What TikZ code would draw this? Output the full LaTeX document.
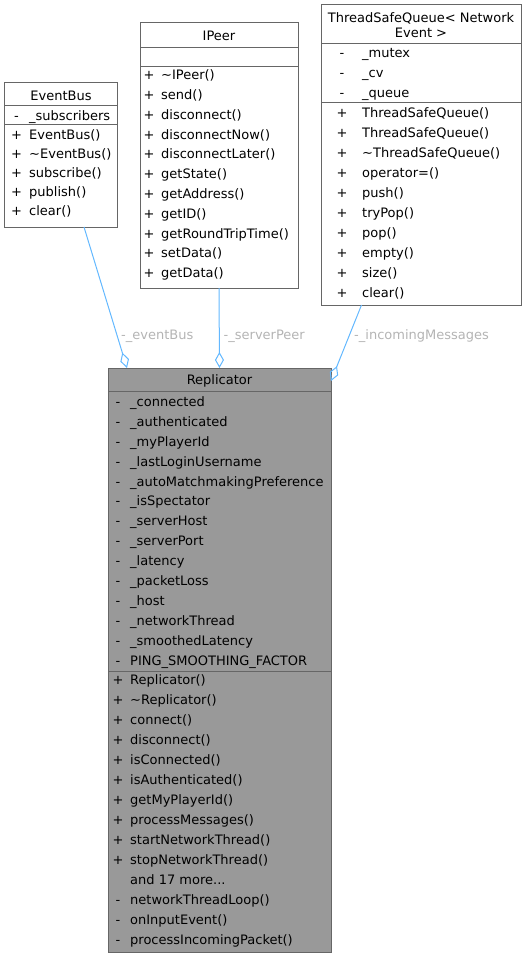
\documentclass[tikz,border=0pt]{standalone}
\usepackage{fontspec}
\setmainfont{DejaVu Sans}
\usetikzlibrary{arrows.meta,calc}
\definecolor{bordergray}{HTML}{666666}
\definecolor{repfill}{HTML}{999999}
\definecolor{edgeblue}{HTML}{63B8FF}
\definecolor{lblgray}{HTML}{B4B4B4}
\begin{document}
\begin{tikzpicture}[x=1pt,y=-1pt,
  box/.style={draw=bordergray, line width=1pt, fill=white, inner sep=0pt, outer sep=0pt},
  repbox/.style={box, fill=repfill},
  sepline/.style={draw=bordergray, line width=1pt},
  txt/.style={font=\fontsize{13}{15}\selectfont, inner sep=0pt, anchor=base west},
  pre/.style={txt, anchor=base},
  ttl/.style={txt, anchor=base},
  elbl/.style={txt, text=lblgray},
  agg/.style={draw=edgeblue, line width=1pt, {Diamond[open, length=16pt, width=9pt]}-}
]
\useasboundingbox (0,0) rectangle (527,959);

% ---- boxes ----
\node[box, minimum width=113pt, minimum height=145pt] (eventbus) at (61,154.5) {};
\node[box, minimum width=158pt, minimum height=266pt] (ipeer) at (219,155) {};
\node[box, minimum width=200pt, minimum height=301pt] (tsq) at (421,154.5) {};
\node[repbox, minimum width=223pt, minimum height=584pt] (replicator) at (219.5,660) {};

% ---- separators ----
\draw[sepline] (eventbus.west |- 0,105) -- (eventbus.east |- 0,105);
\draw[sepline] (eventbus.west |- 0,124) -- (eventbus.east |- 0,124);
\draw[sepline] (ipeer.west |- 0,47) -- (ipeer.east |- 0,47);
\draw[sepline] (ipeer.west |- 0,66) -- (ipeer.east |- 0,66);
\draw[sepline] (tsq.west |- 0,43) -- (tsq.east |- 0,43);
\draw[sepline] (tsq.west |- 0,102) -- (tsq.east |- 0,102);
\draw[sepline] (replicator.west |- 0,391.5) -- (replicator.east |- 0,391.5);
\draw[sepline] (replicator.west |- 0,671) -- (replicator.east |- 0,671);

% ---- EventBus ----
\node[ttl] (eb-title) at (61,{95.5+4.7}) {EventBus};
\node[pre] (eb-ap0) at (16.5,{115.5+4.7}) {-};
\node[txt] (eb-a0) at (29,{115.5+4.7}) {\_subscribers};
\foreach \t [count=\i from 0] in {EventBus(),{\textasciitilde EventBus()},subscribe(),publish(),clear()} {
  \node[pre] (eb-mp\i) at (16.5,{134.5+19*\i+4.7}) {+};
  \node[txt] (eb-m\i) at (29,{134.5+19*\i+4.7}) {\t};
}

% ---- IPeer ----
\node[ttl] (ip-title) at (219,{35.5+4.7}) {IPeer};
\foreach \t [count=\i from 0] in {{\textasciitilde IPeer()},send(),disconnect(),disconnectNow(),disconnectLater(),getState(),getAddress(),getID(),getRoundTripTime(),setData(),getData()} {
  \node[pre] (ip-mp\i) at (149,{75+19.8*\i+4.7}) {+};
  \node[txt] (ip-m\i) at (161,{75+19.8*\i+4.7}) {\t};
}

% ---- ThreadSafeQueue ----
\node[ttl] (tsq-t1) at (421,{17.5+4.7}) {ThreadSafeQueue< Network};
\node[ttl] (tsq-t2) at (421,{32.5+4.7}) {Event >};
\foreach \t [count=\i from 0] in {\_mutex,\_cv,\_queue} {
  \node[pre] (tsq-ap\i) at (342,{52.3+20*\i+4.7}) {-};
  \node[txt] (tsq-a\i) at (362,{52.3+20*\i+4.7}) {\t};
}
\foreach \t [count=\i from 0] in {ThreadSafeQueue(),ThreadSafeQueue(),{\textasciitilde ThreadSafeQueue()},operator=(),push(),tryPop(),pop(),empty(),size(),clear()} {
  \node[pre] (tsq-mp\i) at (342,{112.3+20.1*\i+4.7}) {+};
  \node[txt] (tsq-m\i) at (362,{112.3+20.1*\i+4.7}) {\t};
}

% ---- Replicator ----
\node[ttl] (rep-title) at (219.5,{380+4.7}) {Replicator};
\foreach \t [count=\i from 0] in {\_connected,\_authenticated,\_myPlayerId,\_lastLoginUsername,\_autoMatchmakingPreference,\_isSpectator,\_serverHost,\_serverPort,\_latency,\_packetLoss,\_host,\_networkThread,\_smoothedLatency,PING\_SMOOTHING\_FACTOR} {
  \node[pre] (rep-ap\i) at (118,{401.5+19.95*\i+4.7}) {-};
  \node[txt] (rep-a\i) at (130,{401.5+19.95*\i+4.7}) {\t};
}
\foreach \t [count=\i from 0] in {Replicator(),{\textasciitilde Replicator()},connect(),disconnect(),isConnected(),isAuthenticated(),getMyPlayerId(),processMessages(),startNetworkThread(),stopNetworkThread()} {
  \node[pre] (rep-mp\i) at (118,{680+20*\i+4.7}) {+};
  \node[txt] (rep-m\i) at (130,{680+20*\i+4.7}) {\t};
}
\node[txt] (rep-more) at (130,{880+4.7}) {and 17 more...};
\foreach \t [count=\i from 0] in {networkThreadLoop(),onInputEvent(),processIncomingPacket()} {
  \node[pre] (rep-pp\i) at (118,{900+20*\i+4.7}) {-};
  \node[txt] (rep-p\i) at (130,{900+20*\i+4.7}) {\t};
}

% ---- connectors ----
\coordinate (eb-src) at ($(eventbus.south west)+(79.5,0)$);
\coordinate (rep-eb) at ($(replicator.north west)+(19,0)$);
\coordinate (tsq-src) at ($(tsq.south west)+(40.5,0)$);
\coordinate (rep-im) at ($(replicator.north east)+(0,13)$);
\draw[agg] (rep-eb) -- (eb-src);
\draw[agg] (replicator.north) -- (ipeer.south);
\draw[agg] (rep-im) -- (tsq-src);

\node[elbl] (lbl-eb) at (121,{335+4.7}) {-\_eventBus};
\node[elbl] (lbl-sp) at (223.5,{335+4.7}) {-\_serverPeer};
\node[elbl] (lbl-im) at (354,{335+4.7}) {-\_incomingMessages};
\end{tikzpicture}
\end{document}
